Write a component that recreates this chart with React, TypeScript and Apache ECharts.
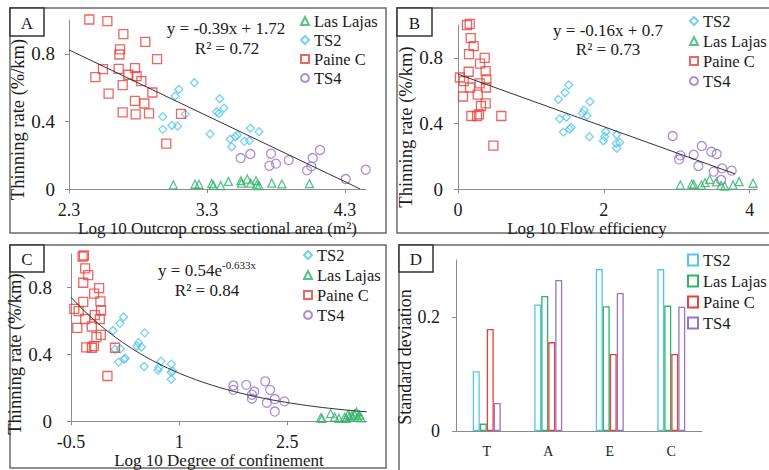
import React, { useEffect, useRef } from 'react';
import * as echarts from 'echarts';

const FONT = 'Liberation Serif';
const TEXT = '#1a1a1a';
const AXIS = '#8c8c8c';
const COLORS: Record<string, string> = {
  'TS2': '#55c5ee',
  'Las Lajas': '#2fb36a',
  'Paine C': '#e8403a',
  'TS4': '#9674c6',
};
const SYMBOLS: Record<string, [string, number]> = {
  'TS2': ['diamond', 8],
  'Las Lajas': ['triangle', 8],
  'Paine C': ['rect', 9],
  'TS4': ['circle', 9],
};

// ---------- Panel A: Log10 outcrop cross sectional area vs thinning rate ----------
const A_LAS_LAJAS = [[3.056,0.024],[3.213,0.028],[3.242,0.028],[3.334,0.032],[3.346,0.022],[3.399,0.020],[3.455,0.045],[3.546,0.049],[3.549,0.035],[3.592,0.059],[3.616,0.035],[3.655,0.049],[3.660,0.024],[3.677,0.020],[3.769,0.035],[3.843,0.030],[4.042,0.032]];
const A_TS2 = [[3.208,0.629],[3.095,0.589],[3.068,0.550],[3.143,0.443],[2.979,0.428],[2.979,0.353],[3.046,0.376],[3.087,0.372],[3.322,0.325],[3.392,0.534],[3.370,0.457],[3.387,0.447],[3.423,0.479],[3.467,0.294],[3.479,0.250],[3.505,0.309],[3.520,0.319],[3.571,0.282],[3.607,0.286],[3.614,0.359],[3.677,0.339]];
const A_PAINE_C = [[2.447,1.003],[2.578,0.993],[2.694,0.916],[2.853,0.871],[2.670,0.826],[2.665,0.796],[2.938,0.768],[2.546,0.709],[2.660,0.711],[2.778,0.715],[2.491,0.662],[2.730,0.676],[2.790,0.668],[2.824,0.638],[2.689,0.615],[2.904,0.571],[2.587,0.564],[2.778,0.522],[2.846,0.506],[2.689,0.453],[2.783,0.441],[2.880,0.447],[3.112,0.445],[3.005,0.268]];
const A_TS4 = [[3.544,0.183],[3.614,0.207],[3.764,0.209],[3.752,0.138],[3.800,0.150],[3.892,0.171],[4.025,0.110],[4.056,0.134],[4.066,0.183],[4.119,0.231],[4.305,0.059],[4.45,0.114]];
const A_X_TICKS = [2.3, 3.3, 4.3];
const A_FIT = { slope: -0.39, intercept: 1.72, from: 2.3, to: 4.41 };

// ---------- Panel B: Log10 flow efficiency ----------
const B_TS2 = [[1.518,0.634],[1.467,0.587],[1.376,0.546],[1.810,0.532],[1.728,0.481],[1.705,0.461],[1.769,0.447],[1.486,0.437],[1.394,0.428],[1.550,0.376],[1.531,0.365],[1.445,0.347],[1.801,0.319],[2.011,0.319],[1.993,0.294],[2.025,0.349],[2.176,0.331],[2.217,0.284],[2.171,0.278],[2.176,0.248]];
const B_LAS_LAJAS = [[3.049,0.024],[3.205,0.030],[3.232,0.028],[3.337,0.024],[3.387,0.039],[3.451,0.059],[3.543,0.043],[3.607,0.022],[3.657,0.018],[3.771,0.024],[3.854,0.045],[4.046,0.035]];
const B_PAINE_C = [[0.123,0.999],[0.160,1.007],[0.174,0.920],[0.215,0.871],[0.151,0.822],[0.366,0.800],[0.302,0.765],[0.146,0.715],[0.379,0.719],[0.027,0.680],[0.078,0.658],[0.389,0.668],[0.297,0.644],[0.165,0.619],[0.384,0.619],[0.270,0.575],[0.069,0.564],[0.315,0.506],[0.379,0.522],[0.183,0.445],[0.261,0.445],[0.288,0.455],[0.594,0.445],[0.485,0.264]];
const B_TS4 = [[2.944,0.323],[3.049,0.205],[3.031,0.181],[3.232,0.209],[3.296,0.140],[3.342,0.262],[3.474,0.227],[3.547,0.213],[3.621,0.126],[3.506,0.106],[3.753,0.112],[3.607,0.055]];
const B_X_TICKS = [0, 2, 4];
const B_FIT = { slope: -0.16, intercept: 0.7, from: 0, to: 3.8 };

// ---------- Panel C: Log10 degree of confinement ----------
const C_TS2 = [[0.229,0.623],[0.179,0.585],[0.083,0.542],[0.523,0.528],[0.436,0.469],[0.413,0.449],[0.477,0.443],[0.183,0.433],[0.110,0.430],[0.252,0.376],[0.234,0.370],[0.161,0.353],[0.514,0.327],[0.748,0.359],[0.716,0.319],[0.706,0.305],[0.890,0.341],[0.908,0.300],[0.890,0.292],[0.890,0.250]];
const C_LAS_LAJAS = [[2.963,0.020],[2.982,0.016],[3.101,0.045],[3.156,0.024],[3.216,0.016],[3.294,0.024],[3.317,0.016],[3.339,0.039],[3.362,0.030],[3.394,0.033],[3.431,0.043],[3.459,0.055],[3.477,0.024],[3.500,0.035],[3.523,0.020]];
const C_PAINE_C = [[-0.339,0.985],[-0.321,0.991],[-0.303,0.914],[-0.261,0.873],[-0.330,0.828],[-0.110,0.796],[-0.179,0.763],[-0.330,0.713],[-0.092,0.717],[-0.454,0.672],[-0.394,0.658],[-0.083,0.662],[-0.170,0.634],[-0.303,0.611],[-0.101,0.611],[-0.211,0.566],[-0.413,0.558],[-0.147,0.502],[-0.087,0.516],[-0.289,0.441],[-0.211,0.439],[-0.183,0.449],[0.110,0.439],[0.005,0.270]];
const C_TS4 = [[1.752,0.213],[1.752,0.187],[1.931,0.217],[2.041,0.177],[2.009,0.158],[2.009,0.134],[2.193,0.238],[2.261,0.187],[2.216,0.110],[2.326,0.132],[2.326,0.057],[2.459,0.118]];
const C_X_TICKS = [-0.5, 1, 2.5];
const C_FIT = { coef: 0.54, rate: -0.633, from: -0.5, to: 3.6 };

// ---------- Panel D: standard deviation ----------
const D_CATEGORIES = ['T', 'A', 'E', 'C'];
const D_TS2 = [0.105, 0.222, 0.284, 0.284];
const D_LAS_LAJAS = [0.013, 0.237, 0.219, 0.220];
const D_PAINE_C = [0.179, 0.156, 0.135, 0.135];
const D_TS4 = [0.049, 0.265, 0.242, 0.218];

const Y_TICKS = [0, 0.4, 0.8];
const D_Y_TICKS = [0, 0.2];

function linearFit(f: { slope: number; intercept: number; from: number; to: number }) {
  return [f.from, f.to].map((x) => [x, f.slope * x + f.intercept]);
}
function expFit(f: { coef: number; rate: number; from: number; to: number }) {
  const pts: number[][] = [];
  const n = 40;
  for (let i = 0; i <= n; i++) {
    const x = f.from + ((f.to - f.from) * i) / n;
    pts.push([x, f.coef * Math.exp(f.rate * x)]);
  }
  return pts;
}

function scatter(panel: string, name: string, data: number[][], idx: number) {
  const [symbol, size] = SYMBOLS[name];
  return {
    type: 'scatter',
    name: panel + ':' + name,
    xAxisIndex: idx,
    yAxisIndex: idx,
    data,
    symbol,
    symbolSize: size,
    clip: false,
    itemStyle: { color: 'rgba(255,255,255,0)', borderColor: COLORS[name], borderWidth: 1.3 },
    z: 3,
  };
}
function fitLine(data: number[][], idx: number) {
  return {
    type: 'line',
    xAxisIndex: idx,
    yAxisIndex: idx,
    data,
    showSymbol: false,
    smooth: false,
    lineStyle: { color: '#333', width: 1 },
    z: 4,
    silent: true,
  };
}
function legend(panel: string, names: string[], left: number, top: number, lh: number, icon?: string, iw = 8, ih = 8) {
  return {
    orient: 'vertical',
    left,
    top,
    padding: 0,
    itemGap: 0,
    itemWidth: iw,
    itemHeight: ih,
    selectedMode: false,
    data: names.map((n) => (icon ? { name: panel + ':' + n, icon } : { name: panel + ':' + n })),
    formatter: (n: string) => n.split(':')[1],
    textStyle: { fontFamily: FONT, fontSize: 16.5, lineHeight: lh, color: TEXT },
  };
}
// tick labels: counted from min with an interval; the extra label at max is hidden
function valueY(idx: number, max: number, interval: number, ticks: number[], margin: number, name: string, gap: number, padRight: number, nameSize: number, labelSize = 19) {
  return {
    type: 'value',
    gridIndex: idx,
    min: 0,
    max,
    interval,
    splitLine: { show: false },
    axisLine: { show: true, onZero: false, lineStyle: { color: AXIS, width: 1 } },
    axisTick: { show: true, length: 4, lineStyle: { color: AXIS }, customValues: ticks },
    axisLabel: { margin, fontFamily: FONT, fontSize: labelSize, color: TEXT, showMaxLabel: false },
    name,
    nameLocation: 'middle',
    nameGap: gap,
    nameTextStyle: { fontFamily: FONT, fontSize: nameSize, color: TEXT, padding: [0, padRight, 0, 0] },
  };
}
function valueX(idx: number, min: number, max: number, interval: number, ticks: number[], name: string, gap: number, pad: number[]) {
  return {
    type: 'value',
    gridIndex: idx,
    min,
    max,
    interval,
    splitLine: { show: false },
    axisLine: { show: true, onZero: false, lineStyle: { color: AXIS, width: 1 } },
    axisTick: { show: true, length: 4, lineStyle: { color: AXIS }, customValues: ticks },
    axisLabel: { margin: 12, fontFamily: FONT, fontSize: 18, color: TEXT, showMaxLabel: false },
    name,
    nameLocation: 'middle',
    nameGap: gap,
    nameTextStyle: { fontFamily: FONT, fontSize: 17, color: TEXT, padding: pad },
  };
}

function panelFrame(x: number, y: number, w: number, h: number) {
  return { type: 'rect', silent: true, z: 0, shape: { x, y, width: w, height: h }, style: { fill: 'none', stroke: '#6a6a6a', lineWidth: 1.5 } };
}
function panelLabel(letter: string, x: number, y: number, w: number, h: number) {
  return [
    { type: 'rect', silent: true, z: 1, shape: { x, y, width: w, height: h }, style: { fill: '#fff', stroke: '#333', lineWidth: 1.5 } },
    { type: 'text', silent: true, z: 2, x: x + w / 2, y: y + h / 2 + 1, style: { text: letter, fontFamily: FONT, fontSize: 17, fill: TEXT, align: 'center', verticalAlign: 'middle' } },
  ];
}
function eqText(text: string, x: number, y: number) {
  return { type: 'text', silent: true, z: 5, x, y, style: { text, fontFamily: FONT, fontSize: 17, fill: TEXT, align: 'center', verticalAlign: 'middle' } };
}

export default function App() {
  const ref = useRef<HTMLDivElement>(null);
  useEffect(() => {
    if (!ref.current) return;
    const chart = echarts.init(ref.current, null, { renderer: 'svg' });
    const ORDER1 = ['Las Lajas', 'TS2', 'Paine C', 'TS4'];
    const ORDER2 = ['TS2', 'Las Lajas', 'Paine C', 'TS4'];
    const bar = (name: string, data: number[]) => ({
      type: 'bar',
      name: 'D:' + name,
      xAxisIndex: 3,
      yAxisIndex: 3,
      data,
      barWidth: 7,
      barGap: '0%',
      itemStyle: { color: '#fff', borderColor: COLORS[name], borderWidth: 1.3 },
    });
    const option: any = {
      animation: false,
      backgroundColor: '#fff',
      textStyle: { fontFamily: FONT, color: TEXT },
      grid: [
        { left: 69, top: 20, width: 297, height: 169 },
        { left: 458, top: 25, width: 299, height: 164 },
        { left: 71, top: 254, width: 296, height: 169 },
        { left: 456, top: 260, width: 246, height: 171 },
      ],
      xAxis: [
        valueX(0, 2.3, 4.452, 1, A_X_TICKS, 'Log 10 Outcrop cross sectional area (m²)', 22, [0, 0, 0, 0]),
        valueX(1, 0, 4.1, 2, B_X_TICKS, 'Log 10 Flow efficiency', 23, [0, 41, 0, 0]),
        valueX(2, -0.5, 3.605, 1.5, C_X_TICKS, 'Log 10 Degree of confinement', 24, [0, 0, 0, 0]),
        {
          type: 'category',
          gridIndex: 3,
          data: D_CATEGORIES,
          axisLine: { show: true, lineStyle: { color: AXIS, width: 1 } },
          axisTick: { show: false },
          axisLabel: { margin: 13, fontFamily: FONT, fontSize: 14, color: TEXT },
        },
      ],
      yAxis: [
        valueY(0, 1.0, 0.4, Y_TICKS, 14, 'Thinning rate (%/km)', 35, 30, 18.5),
        valueY(1, 1.0, 0.4, Y_TICKS, 15, 'Thinning rate (%/km)', 34, 40, 18.5),
        valueY(2, 1.0, 0.4, Y_TICKS, 19, 'Thinning rate (%/km)', 37, 33, 18.5),
        valueY(3, 0.3, 0.2, D_Y_TICKS, 16, 'Standard deviation', 37, 23, 18, 18),
      ],
      legend: [
        legend('A', ORDER1, 300, 11.5, 19),
        legend('B', ORDER2, 689, 11, 20),
        legend('C', ORDER2, 303, 245, 20),
        legend('D', ORDER2, 687, 249.5, 21, 'rect', 10, 11),
      ],
      series: [
        fitLine(linearFit(A_FIT), 0),
        scatter('A', 'Las Lajas', A_LAS_LAJAS, 0),
        scatter('A', 'TS2', A_TS2, 0),
        scatter('A', 'Paine C', A_PAINE_C, 0),
        scatter('A', 'TS4', A_TS4, 0),
        fitLine(linearFit(B_FIT), 1),
        scatter('B', 'TS2', B_TS2, 1),
        scatter('B', 'Las Lajas', B_LAS_LAJAS, 1),
        scatter('B', 'Paine C', B_PAINE_C, 1),
        scatter('B', 'TS4', B_TS4, 1),
        fitLine(expFit(C_FIT), 2),
        scatter('C', 'TS2', C_TS2, 2),
        scatter('C', 'Las Lajas', C_LAS_LAJAS, 2),
        scatter('C', 'Paine C', C_PAINE_C, 2),
        scatter('C', 'TS4', C_TS4, 2),
        bar('TS2', D_TS2),
        bar('Las Lajas', D_LAS_LAJAS),
        bar('Paine C', D_PAINE_C),
        bar('TS4', D_TS4),
      ],
      graphic: [
        panelFrame(10, 8, 376, 225),
        panelFrame(397, 8, 400, 225),
        panelFrame(10, 245, 376, 223),
        panelFrame(399, 245, 400, 240),
        ...panelLabel('A', 10, 8, 34, 28),
        ...panelLabel('B', 397, 8, 35, 28),
        ...panelLabel('C', 10, 245, 34, 27),
        ...panelLabel('D', 399, 245, 34, 27),
        eqText('y = -0.39x + 1.72', 226, 28),
        eqText('R² = 0.72', 227, 48),
        eqText('y = -0.16x + 0.7', 608, 30),
        eqText('R² = 0.73', 608, 49),
        {
          type: 'text',
          silent: true,
          z: 5,
          x: 207,
          y: 270,
          style: {
            text: '{m|y = 0.54e}{s|-0.633x}',
            align: 'center',
            verticalAlign: 'middle',
            fill: TEXT,
            rich: {
              m: { fontFamily: FONT, fontSize: 17, lineHeight: 22, fill: TEXT },
              s: { fontFamily: FONT, fontSize: 11, verticalAlign: 'top', lineHeight: 12, fill: TEXT },
            },
          },
        },
        eqText('R² = 0.84', 207, 290),
      ],
    };
    chart.setOption(option);
    return () => chart.dispose();
  }, []);
  return <div ref={ref} style={{ position: 'fixed', left: 0, top: 0, width: 769, height: 470 }} />;
}
